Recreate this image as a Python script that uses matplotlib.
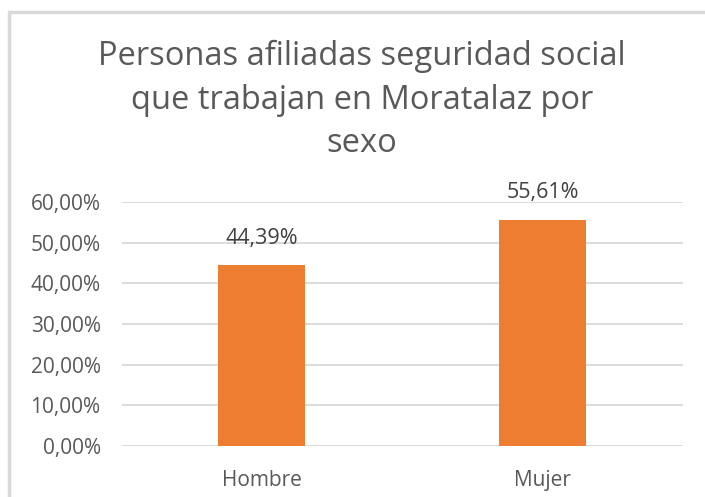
import matplotlib
matplotlib.use("Agg")
import matplotlib.pyplot as plt
from matplotlib.patches import Rectangle
from matplotlib.ticker import FuncFormatter, MultipleLocator

categories = ["Hombre", "Mujer"]
values = [44.39, 55.61]
title = "Personas afiliadas seguridad social\nque trabajan en Moratalaz por\nsexo"

plt.rcParams['font.family'] = ['Open Sans', 'DejaVu Sans']

W, H = 705, 497
fig = plt.figure(figsize=(W / 100, H / 100), dpi=100)
ax = fig.add_axes([121.5 / W, 1 - 446 / H, (683 - 121.5) / W, (446 - 202) / H])

x = range(len(categories))
ax.bar(x, values, width=0.31, color="#ED7D31", zorder=3)
ax.set_xlim(-0.5, len(categories) - 0.5)
ax.set_ylim(0, 60)
ax.yaxis.set_major_locator(MultipleLocator(10))
ax.yaxis.set_major_formatter(FuncFormatter(lambda v, p: f"{v:.2f}".replace(".", ",") + "%"))
ax.set_xticks(list(x))
ax.set_xticklabels(categories)
ax.grid(axis="y", color="#d9d9d9", linewidth=1.3, zorder=0)
for s in ax.spines.values():
    s.set_visible(False)
ax.tick_params(axis="both", length=0, labelsize=15, labelcolor="#595959")
ax.tick_params(axis="y", pad=15)
ax.tick_params(axis="x", pad=17)

for xi, v in zip(x, values):
    ax.annotate(f"{v:.2f}".replace(".", ",") + "%", (xi, v), xytext=(0, 12),
                textcoords="offset points", ha="center", va="bottom",
                fontsize=15.5, color="#404040")

fig.text(362 / W, 1 - 100 / H, title, ha="center", va="center", fontsize=23.5,
         color="#595959", linespacing=1.42)

fig.add_artist(Rectangle((9 / W, -0.1), 1.2, 1.1 - 12 / H, transform=fig.transFigure,
                         fill=False, edgecolor="#d9d9d9", linewidth=2.5, clip_on=False))

fig.savefig("out.png", dpi=100)
